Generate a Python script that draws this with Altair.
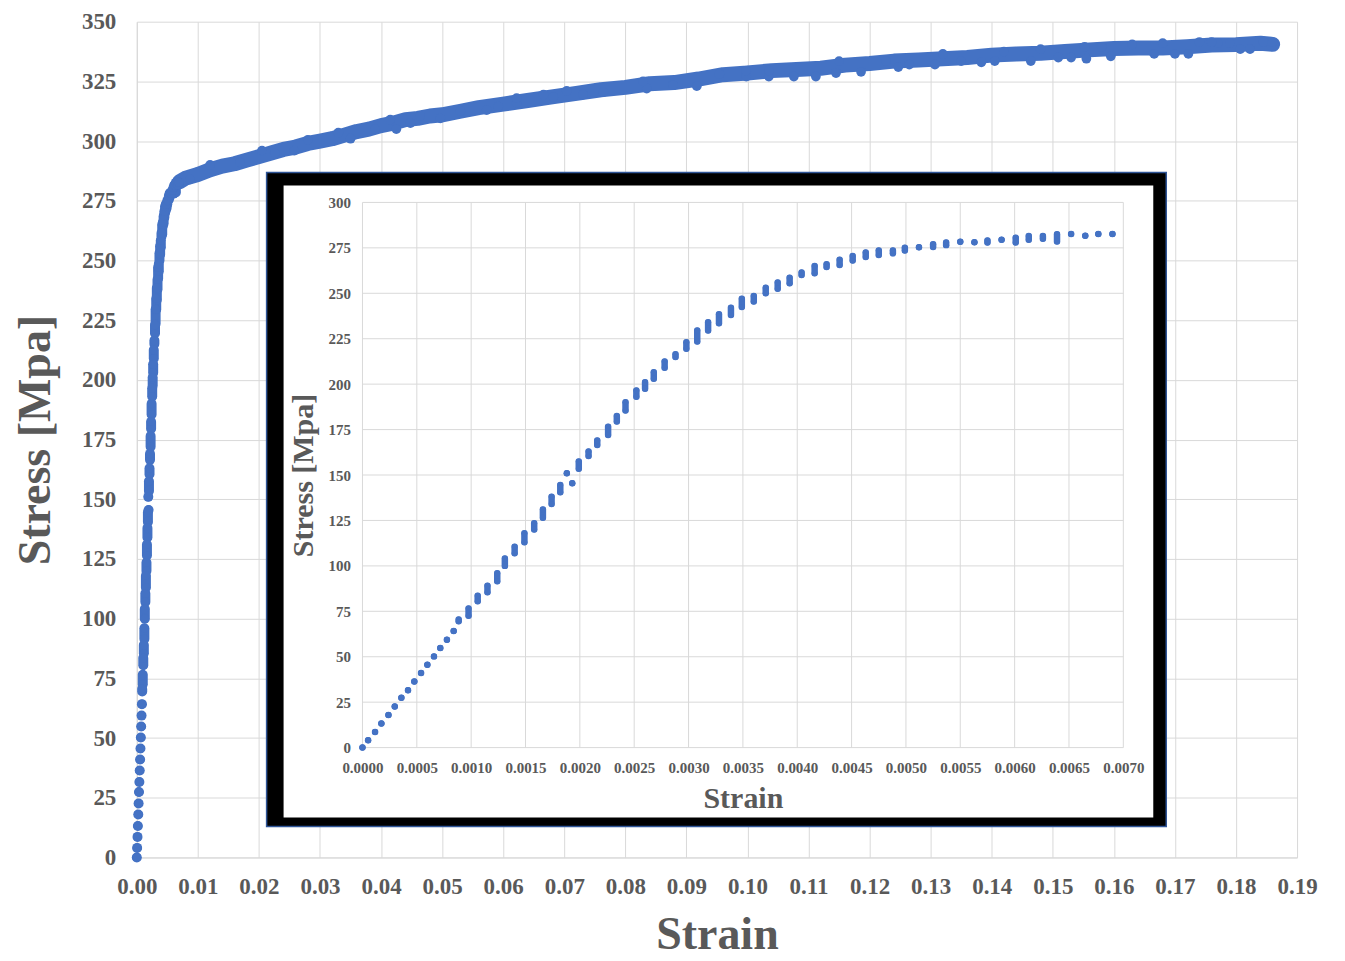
import altair as alt
import pandas as pd

BLUE = "#4472C4"
GRAY = "#595959"
GRID = "#D9D9D9"
FONT = "Liberation Serif"

# ---- inset (elastic region) data: each entry = strain with low/high stress of the dot cluster
inset_strain = [0.0, 0.000052, 0.000116, 0.000174, 0.000239, 0.000297, 0.000358, 0.000419,
                0.000477, 0.000539, 0.000597, 0.000658, 0.000716, 0.000777, 0.000839, 0.000885,
                0.000976, 0.00106, 0.00115, 0.00124, 0.00131, 0.0014, 0.00149, 0.00158,
                0.00166, 0.00174, 0.00182, 0.00188, 0.00193, 0.00199, 0.00208, 0.00216,
                0.00226, 0.00234, 0.00242, 0.00252, 0.0026, 0.00268, 0.00278, 0.00288,
                0.00298, 0.00308, 0.00318, 0.00328, 0.00339, 0.00349, 0.0036, 0.00371,
                0.00382, 0.00393, 0.00404, 0.00416, 0.00427, 0.00439, 0.00451, 0.00463,
                0.00475, 0.00488, 0.00499, 0.00512, 0.00525, 0.00537, 0.0055, 0.00563,
                0.00575, 0.00588, 0.00601, 0.00613, 0.00626, 0.00639, 0.00652, 0.00665,
                0.00677, 0.0069]
inset_low = [0, 4.0, 8.6, 13.2, 18.0, 22.6, 27.4, 31.6,
             36.4, 41.0, 45.6, 50.2, 54.8, 59.4, 64.2, 69.5,
             72.5, 80.5, 85.5, 91.5, 100, 107, 113, 120,
             126.5, 134, 140.5, 151, 145.5, 153.5, 160.5, 166.5,
             172, 179.5, 185.5, 193, 197.5, 203, 209, 215,
             219.5, 223.5, 229.5, 233.5, 238, 242.5, 245.5, 250,
             252.5, 255.5, 260, 261, 264.5, 265.5, 268, 270,
             271, 272, 273.5, 275.3, 275.5, 276.5, 278.4, 278.1,
             278, 279.5, 278, 279.5, 280, 278.5, 282.6, 281.7,
             282.6, 282.6]
inset_high = [0, 4.0, 8.6, 13.2, 18.0, 22.6, 27.4, 31.6,
              36.4, 41.0, 45.6, 50.2, 54.8, 59.4, 64.2, 70.5,
              76.5, 83.5, 89, 96, 104, 110.5, 118, 123.5,
              131, 138, 144.5, 151, 145.5, 157.5, 163, 169,
              176.5, 182.5, 190, 196.5, 201, 206.5, 212.5, 216.5,
              223, 229.5, 234, 238.5, 242, 247, 248.5, 253,
              256, 258.5, 261.5, 265, 266, 268.5, 270.5, 272.5,
              273.5, 273.5, 275, 275.3, 277, 278, 278.4, 278.1,
              279, 279.5, 280.5, 281.5, 281.5, 282.5, 282.6, 281.7,
              282.6, 282.6]

# ---- main (plastic region) centre line
main_strain = [0.007, 0.008, 0.010, 0.012, 0.014, 0.016, 0.018, 0.020, 0.022, 0.024,
               0.026, 0.028, 0.030, 0.032, 0.034, 0.036, 0.038, 0.040, 0.042, 0.044,
               0.046, 0.048, 0.050, 0.053, 0.056, 0.060, 0.064, 0.068, 0.072, 0.076,
               0.080, 0.084, 0.088, 0.092, 0.096, 0.100, 0.104, 0.108, 0.112, 0.116,
               0.120, 0.124, 0.128, 0.132, 0.136, 0.140, 0.144, 0.148, 0.152, 0.156,
               0.160, 0.164, 0.168, 0.172, 0.176, 0.180, 0.184, 0.186]
main_stress = [283, 284.5, 286, 288, 289.5, 290.5, 292, 293.5, 295, 296.5,
               297.5, 299, 300, 301, 302.5, 304, 305, 306.5, 307.5, 309,
               309.5, 310.5, 311, 312.5, 314, 315.5, 317, 318.5, 320, 321.5,
               322.5, 324, 324.5, 326, 327.8, 328.5, 329.5, 330, 330.5, 331.8,
               332.5, 333.5, 334, 334.5, 335, 336, 336.5, 336.8, 337.5, 338.2,
               338.8, 339, 339, 339.5, 340.2, 340.4, 341, 340.5]

# ---- noisy points sticking out of the band
bump_strain = [0.0063, 0.0087, 0.0169, 0.0226, 0.0390, 0.0448, 0.0497, 0.0530, 0.0573, 0.0622,
               0.0682, 0.0731, 0.0764, 0.0835, 0.0878, 0.0917, 0.0998, 0.1035, 0.1076, 0.1112,
               0.1145, 0.1186, 0.1247, 0.1265, 0.1307, 0.1350, 0.1383, 0.1405, 0.1464, 0.1509,
               0.1530, 0.1555, 0.1595, 0.1666, 0.1700, 0.1722, 0.1807, 0.1823,
               0.0464, 0.0592, 0.0622, 0.0666, 0.0704, 0.0829, 0.0954, 0.0998, 0.1035, 0.1227,
               0.1552, 0.1580, 0.1740, 0.1770, 0.1790, 0.1845,
               0.0120, 0.0205, 0.0280, 0.0330, 0.0415, 0.0258, 0.0350, 0.0425, 0.1150, 0.1320,
               0.1420, 0.1480, 0.1630, 0.1680, 0.1760, 0.1860]
bump_stress = [279, 284, 291, 295, 305, 307.5, 309.5, 312.5, 313, 316,
               318.5, 319.5, 320.5, 322, 323.5, 323, 327, 327, 327, 327,
               328.5, 329, 331, 332, 332, 333.5, 333, 333.5, 333.5, 335,
               335, 334.5, 335.5, 336.5, 336.5, 336.5, 338.5, 338.5,
               310.5, 314.5, 318, 319.5, 321, 325, 328, 329.5, 329.5, 333.5,
               339.5, 339.5, 341.5, 341, 341, 341.5,
               290, 296, 300.5, 303.5, 309, 296, 301, 305, 333.5, 336.5,
               337.5, 338.5, 340.5, 341, 341.5, 341.5]

main_x_ticks = [0.00, 0.01, 0.02, 0.03, 0.04, 0.05, 0.06, 0.07, 0.08, 0.09,
                0.10, 0.11, 0.12, 0.13, 0.14, 0.15, 0.16, 0.17, 0.18, 0.19]
main_y_ticks = [0, 25, 50, 75, 100, 125, 150, 175, 200, 225, 250, 275, 300, 325, 350]
inset_x_ticks = [0.0000, 0.0005, 0.0010, 0.0015, 0.0020, 0.0025, 0.0030, 0.0035,
                 0.0040, 0.0045, 0.0050, 0.0055, 0.0060, 0.0065, 0.0070]
inset_y_ticks = [0, 25, 50, 75, 100, 125, 150, 175, 200, 225, 250, 275, 300]

clusters = pd.DataFrame({"strain": inset_strain, "low": inset_low, "high": inset_high})
main_df = pd.DataFrame({"strain": main_strain, "stress": main_stress})
bump_df = pd.DataFrame({"strain": bump_strain, "stress": bump_stress})


def mx():
    return alt.Scale(domain=[0, 0.19], nice=False, zero=False)


def my():
    return alt.Scale(domain=[0, 350], nice=False, zero=False)


def ix():
    return alt.Scale(domain=[0, 0.007], range=[226, 988], nice=False, zero=False)


def iy():
    return alt.Scale(domain=[0, 300], range=[727, 181], nice=False, zero=False)


common = dict(labelFont=FONT, labelFontWeight="bold", labelColor=GRAY, titleFont=FONT,
              titleFontWeight="bold", titleColor=GRAY, ticks=False, labelOverlap=False)

main_x_axis = alt.Axis(values=main_x_ticks, format=".2f", title="Strain", grid=True,
                       gridColor=GRID, domainColor=GRID, labelFontSize=23, labelPadding=18,
                       titleFontSize=46, titlePadding=14, labelFlush=False, **common)
main_y_axis = alt.Axis(values=main_y_ticks, format="d", title="Stress [Mpa]", grid=True,
                       gridColor=GRID, domainColor=GRID, labelFontSize=23, labelPadding=21,
                       titleFontSize=46, titlePadding=22, **common)
inset_x_axis = alt.Axis(values=inset_x_ticks, format=".4f", title="Strain", orient="bottom",
                        offset=-110, grid=False, domain=False, labelFontSize=15,
                        labelPadding=13, titleFontSize=30, titlePadding=8, labelFlush=False,
                        zindex=1, **common)
inset_y_axis = alt.Axis(values=inset_y_ticks, format="d", title="Stress [Mpa]", orient="left",
                        offset=-226, grid=False, domain=False, labelFontSize=15,
                        labelPadding=12, titleFontSize=30, titlePadding=10, zindex=1, **common)

# ---- main chart layers
main_line = alt.Chart(main_df).mark_line(
    color=BLUE, strokeWidth=15, strokeCap="round", strokeJoin="round"
).encode(
    x=alt.X("strain:Q", scale=mx(), axis=main_x_axis),
    y=alt.Y("stress:Q", scale=my(), axis=main_y_axis),
)
main_bumps = alt.Chart(bump_df).mark_circle(color=BLUE, size=95, opacity=1).encode(
    x=alt.X("strain:Q", scale=mx(), axis=None),
    y=alt.Y("stress:Q", scale=my(), axis=None),
)
early_rule = alt.Chart(clusters).mark_rule(color=BLUE, strokeWidth=10, strokeCap="round").encode(
    x=alt.X("strain:Q", scale=mx(), axis=None),
    y=alt.Y("low:Q", scale=my(), axis=None),
    y2="high:Q",
)
early_lo = alt.Chart(clusters).mark_circle(color=BLUE, size=78, opacity=1).encode(
    x=alt.X("strain:Q", scale=mx(), axis=None),
    y=alt.Y("low:Q", scale=my(), axis=None),
)
early_hi = alt.Chart(clusters).mark_circle(color=BLUE, size=78, opacity=1).encode(
    x=alt.X("strain:Q", scale=mx(), axis=None),
    y=alt.Y("high:Q", scale=my(), axis=None),
)

# ---- inset frame
frame_df = pd.DataFrame({"k": [0]})
frame_black = alt.Chart(frame_df).mark_rect(fill="black", stroke="#2F5597", strokeWidth=1.5).encode(
    x=alt.value(130), x2=alt.value(1031), y=alt.value(151), y2=alt.value(806)
)
frame_white = alt.Chart(frame_df).mark_rect(fill="white").encode(
    x=alt.value(147), x2=alt.value(1018), y=alt.value(164), y2=alt.value(797)
)

# ---- inset layers
vgrid = alt.Chart(pd.DataFrame({"t": inset_x_ticks})).mark_rule(color=GRID, strokeWidth=1).encode(
    x=alt.X("t:Q", scale=ix(), axis=None),
    y=alt.YDatum(0, scale=iy(), axis=None),
    y2=alt.datum(300),
)
hgrid = alt.Chart(pd.DataFrame({"t": inset_y_ticks})).mark_rule(color=GRID, strokeWidth=1).encode(
    y=alt.Y("t:Q", scale=iy(), axis=None),
    x=alt.XDatum(0, scale=ix(), axis=None),
    x2=alt.datum(0.007),
)
inset_rule = alt.Chart(clusters).mark_rule(color=BLUE, strokeWidth=6.5, strokeCap="round").encode(
    x=alt.X("strain:Q", scale=ix(), axis=inset_x_axis),
    y=alt.Y("low:Q", scale=iy(), axis=inset_y_axis),
    y2="high:Q",
)
inset_lo = alt.Chart(clusters).mark_circle(color=BLUE, size=36, opacity=1).encode(
    x=alt.X("strain:Q", scale=ix(), axis=None),
    y=alt.Y("low:Q", scale=iy(), axis=None),
)
inset_hi = alt.Chart(clusters).mark_circle(color=BLUE, size=36, opacity=1).encode(
    x=alt.X("strain:Q", scale=ix(), axis=None),
    y=alt.Y("high:Q", scale=iy(), axis=None),
)

chart = alt.layer(
    main_line, main_bumps, early_rule, early_lo, early_hi,
    frame_black, frame_white,
    vgrid, hgrid, inset_rule, inset_lo, inset_hi,
).resolve_scale(
    x="independent", y="independent"
).resolve_axis(
    x="independent", y="independent"
).properties(
    width=1162, height=837,
    autosize=alt.AutoSizeParams(type="none"),
    padding={"left": 129, "top": 13, "right": 40, "bottom": 100},
    background="white",
).configure_view(stroke=None)

chart.save("out.html", embed_options={"renderer": "svg", "actions": False})
